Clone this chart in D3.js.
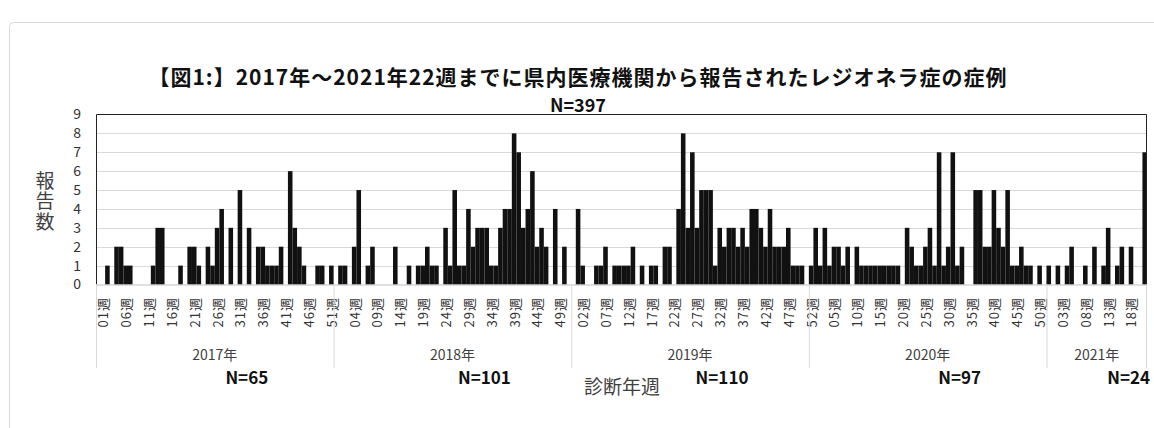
<!DOCTYPE html>
<html>
<head>
<meta charset="utf-8">
<script src="https://cdn.jsdelivr.net/npm/d3@7/dist/d3.min.js"></script>
<style>
  body { margin: 0; background: #fff; }
  text { font-family: "Noto Sans CJK JP", "Noto Sans", sans-serif; }
</style>
</head>
<body>
<div id="chart"></div>
<script>
// weekly counts, one array per year
const years = ["2017年", "2018年", "2019年", "2020年", "2021年"];
const yearN = ["N=65", "N=101", "N=110", "N=97", "N=24"];

const counts2017 = [0,0,1,0,2,2,1,1,0,0, 0,0,1,3,3,0,0,0,1,0, 2,2,1,0,2,1,3,4,0,3,
                    0,5,0,3,0,2,2,1,1,1, 2,0,6,3,2,1,0,0,1,1, 0,1];
const counts2018 = [0,1,1,0,2,5,0,1,2,0, 0,0,0,2,0,0,1,0,1,1, 2,1,1,0,3,1,5,1,1,4,
                    2,3,3,3,1,1,3,4,4,8, 7,3,4,6,2,3,2,0,4,0, 2,0];
const counts2019 = [0,4,1,0,0,1,1,2,0,1, 1,1,1,2,0,1,0,1,1,0, 2,2,0,4,8,3,7,3,5,5,
                    5,1,3,2,3,3,2,3,2,4, 4,3,2,4,2,2,2,3,1,1, 1,0];
const counts2020 = [1,3,1,3,1,2,2,1,2,0, 2,1,1,1,1,1,1,1,1,1, 0,3,2,1,1,2,3,1,7,1,
                    2,7,1,2,0,0,5,5,2,2, 5,3,2,5,1,1,2,1,1,0, 1,0];
const counts2021 = [1,0,1,0,1,2,0,0,1,0, 2,0,1,3,0,1,2,0,2,0, 0,7];

const yTicks = [0, 1, 2, 3, 4, 5, 6, 7, 8, 9];

const title = "【図1:】2017年～2021年22週までに県内医療機関から報告されたレジオネラ症の症例";
const subTitle = "N=397";
const yTitle = "報告数";
const xTitle = "診断年週";

// flatten into one list of weeks
let allCounts = [counts2017, counts2018, counts2019, counts2020, counts2021];
let weeks = [];
let yearStart = [];
allCounts.forEach((arr, y) => {
    yearStart.push(weeks.length);
    arr.forEach((v, i) => {
        weeks.push({ idx: weeks.length, year: y, week: i + 1, count: v });
    });
});
yearStart.push(weeks.length);

let width = 1154;
let height = 428;
let plotLeft = 96, plotRight = 1147, plotTop = 114.5, plotBottom = 284.5;

let svg = d3.select('#chart')
    .append('svg')
    .attr('width', width)
    .attr('height', height);

// outer chart frame
svg.append('rect')
    .attr('x', 9.5).attr('y', 22.5)
    .attr('width', 1160).attr('height', 430)
    .attr('rx', 4)
    .attr('fill', 'none')
    .attr('stroke', '#d9d9d9');

let xScale = d3.scaleBand()
    .domain(weeks.map(d => d.idx))
    .range([plotLeft, plotRight])
    .padding(0);

let yScale = d3.scaleLinear()
    .domain([0, 9])
    .range([plotBottom, plotTop]);

// gridlines
svg.append('g')
    .selectAll('line')
    .data(yTicks.slice(1, -1))
    .enter()
    .append('line')
    .attr('x1', plotLeft).attr('x2', plotRight)
    .attr('y1', d => Math.round(yScale(d)) + 0.5)
    .attr('y2', d => Math.round(yScale(d)) + 0.5)
    .attr('stroke', '#d9d9d9');

// bars
svg.append('g')
    .selectAll('rect')
    .data(weeks.filter(d => d.count > 0))
    .enter()
    .append('rect')
    .attr('x', d => xScale(d.idx))
    .attr('y', d => yScale(d.count))
    .attr('width', xScale.bandwidth())
    .attr('height', d => yScale(0) - yScale(d.count))
    .attr('fill', '#111');

// plot frame: dark on top/left/right, grey axis at bottom
svg.append('path')
    .attr('d', `M${plotLeft + 0.5},${plotBottom} V${plotTop} H${plotRight - 0.5} V${plotBottom}`)
    .attr('fill', 'none')
    .attr('stroke', '#222');
svg.append('line')
    .attr('x1', plotLeft).attr('x2', plotRight)
    .attr('y1', plotBottom + 0.5).attr('y2', plotBottom + 0.5)
    .attr('stroke', '#bfbfbf');

// y axis labels
let yAxis = d3.axisLeft(yScale)
    .tickValues(yTicks)
    .tickSize(0)
    .tickPadding(0)
    .tickFormat(d3.format('d'));
let yG = svg.append('g')
    .attr('transform', `translate(${plotLeft - 15},0)`)
    .call(yAxis);
yG.select('.domain').remove();
yG.selectAll('text')
    .style('font-family', '"Noto Sans CJK JP", sans-serif')
    .style('font-size', '14px')
    .attr('fill', '#333');

// week labels every 5th week, rotated
svg.append('g')
    .selectAll('text')
    .data(weeks.filter(d => d.idx % 5 == 0))
    .enter()
    .append('text')
    .attr('transform', d => `translate(${xScale(d.idx) + xScale.bandwidth() / 2 + 4.5},297) rotate(-90)`)
    .attr('text-anchor', 'end')
    .attr('dominant-baseline', 'central')
    .style('font-size', '13px')
    .style('letter-spacing', '1px')
    .attr('fill', '#333')
    .text(d => String(d.week).padStart(2, '0') + '週');

// year separators below the axis
svg.append('g')
    .selectAll('line')
    .data(yearStart)
    .enter()
    .append('line')
    .attr('x1', d => d < weeks.length ? xScale(d) + 0.5 : plotRight - 0.5)
    .attr('x2', d => d < weeks.length ? xScale(d) + 0.5 : plotRight - 0.5)
    .attr('y1', plotBottom).attr('y2', 368)
    .attr('stroke', '#d9d9d9');

// year labels and per-year totals
years.forEach((y, i) => {
    let x0 = xScale(yearStart[i]);
    let x1 = yearStart[i + 1] < weeks.length ? xScale(yearStart[i + 1]) : plotRight;
    let cx = (x0 + x1) / 2;
    svg.append('text')
        .attr('x', cx).attr('y', 360)
        .attr('text-anchor', 'middle')
        .style('font-size', '14px')
        .attr('fill', '#404040')
        .text(y);
    svg.append('text')
        .attr('x', cx + 32).attr('y', 384)
        .attr('text-anchor', 'middle')
        .style('font-size', '17px')
        .style('font-weight', 'bold')
        .attr('fill', '#111')
        .text(yearN[i]);
});

// titles
svg.append('text')
    .attr('x', 578).attr('y', 85)
    .attr('text-anchor', 'middle')
    .style('font-size', '21px')
    .style('font-weight', 'bold')
    .style('letter-spacing', '1px')
    .attr('fill', '#111')
    .text(title);
svg.append('text')
    .attr('x', 578).attr('y', 112)
    .attr('text-anchor', 'middle')
    .style('font-size', '18px')
    .style('font-weight', 'bold')
    .attr('fill', '#111')
    .text(subTitle);

// axis titles
svg.append('text')
    .attr('transform', 'translate(45,202)')
    .attr('text-anchor', 'middle')
    .style('writing-mode', 'vertical-rl')
    .style('font-size', '19px')
    .style('letter-spacing', '1.5px')
    .attr('fill', '#404040')
    .text(yTitle);

svg.append('text')
    .attr('x', 622).attr('y', 394)
    .attr('text-anchor', 'middle')
    .style('font-size', '19px')
    .attr('fill', '#404040')
    .text(xTitle);
</script>
</body>
</html>
